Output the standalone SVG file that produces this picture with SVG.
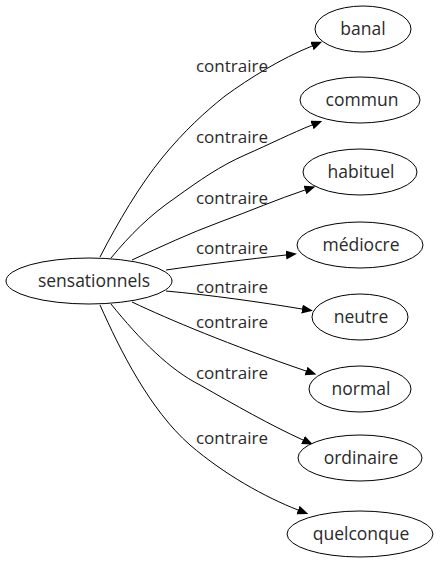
<svg xmlns="http://www.w3.org/2000/svg" width="440" height="563" viewBox="0 0 440 563">
<defs>
<marker id="arr" markerUnits="userSpaceOnUse" markerWidth="12" markerHeight="10" refX="0" refY="4.5" orient="auto">
<path d="M0,0 L11,4.5 L0,9 Z" fill="#000"/>
</marker>
<style>
.n ellipse{fill:#fff;stroke:#000;stroke-width:1}
.n text{font-family:"Open Sans",sans-serif;font-size:17.5px;fill:#2a2a2a;text-anchor:middle}
#edges path{fill:none;stroke:#000;stroke-width:1;marker-end:url(#arr)}
#edges text{font-family:"Open Sans",sans-serif;font-size:17px;fill:#2a2a2a;text-anchor:middle}
</style>
</defs>
<rect width="440" height="563" fill="#fff"/>
<g id="edges">
<path d="M100,257 C118,222 140,185 162,158 C185,130 205,112 225,96 C250,78 280,59 312,46"/>
<text x="232" y="72">contraire</text>
<path d="M111,258 C130,235 150,215 175,198 C200,180 220,166 245,155 C270,144 292,133 312,125"/>
<text x="232" y="143">contraire</text>
<path d="M132,260 C160,247 190,233 220,222 C250,211 278,199 305,190"/>
<text x="232" y="204">contraire</text>
<path d="M166,270 C200,265 250,259 286,255"/>
<text x="232" y="254">contraire</text>
<path d="M166,291 C210,295 260,302 302,309"/>
<text x="232" y="293">contraire</text>
<path d="M132,302 C170,320 230,345 306,371"/>
<text x="232" y="328">contraire</text>
<path d="M111,304 C140,340 170,370 200,385 C235,405 270,425 303,440"/>
<text x="232" y="379">contraire</text>
<path d="M100,305 C120,350 150,410 190,445 C225,475 265,497 298,510"/>
<text x="232" y="444">contraire</text>
</g>
<g id="sensationnels" class="n"><ellipse cx="89" cy="281" rx="83" ry="23"/><text x="94" y="287">sensationnels</text></g>
<g id="banal" class="n"><ellipse cx="363" cy="29" rx="48" ry="23"/><text x="363" y="35">banal</text></g>
<g id="commun" class="n"><ellipse cx="360" cy="100" rx="60" ry="23"/><text x="362" y="106">commun</text></g>
<g id="habituel" class="n"><ellipse cx="360" cy="172" rx="57" ry="23"/><text x="361" y="178">habituel</text></g>
<g id="mediocre" class="n"><ellipse cx="360" cy="245" rx="63" ry="23"/><text x="361" y="251">médiocre</text></g>
<g id="neutre" class="n"><ellipse cx="360" cy="317" rx="48" ry="23"/><text x="361" y="323">neutre</text></g>
<g id="normal" class="n"><ellipse cx="360" cy="389" rx="51" ry="23"/><text x="361" y="395">normal</text></g>
<g id="ordinaire" class="n"><ellipse cx="360" cy="458" rx="62" ry="23"/><text x="361" y="464">ordinaire</text></g>
<g id="quelconque" class="n"><ellipse cx="360" cy="534" rx="73" ry="23"/><text x="361" y="540">quelconque</text></g>
</svg>
